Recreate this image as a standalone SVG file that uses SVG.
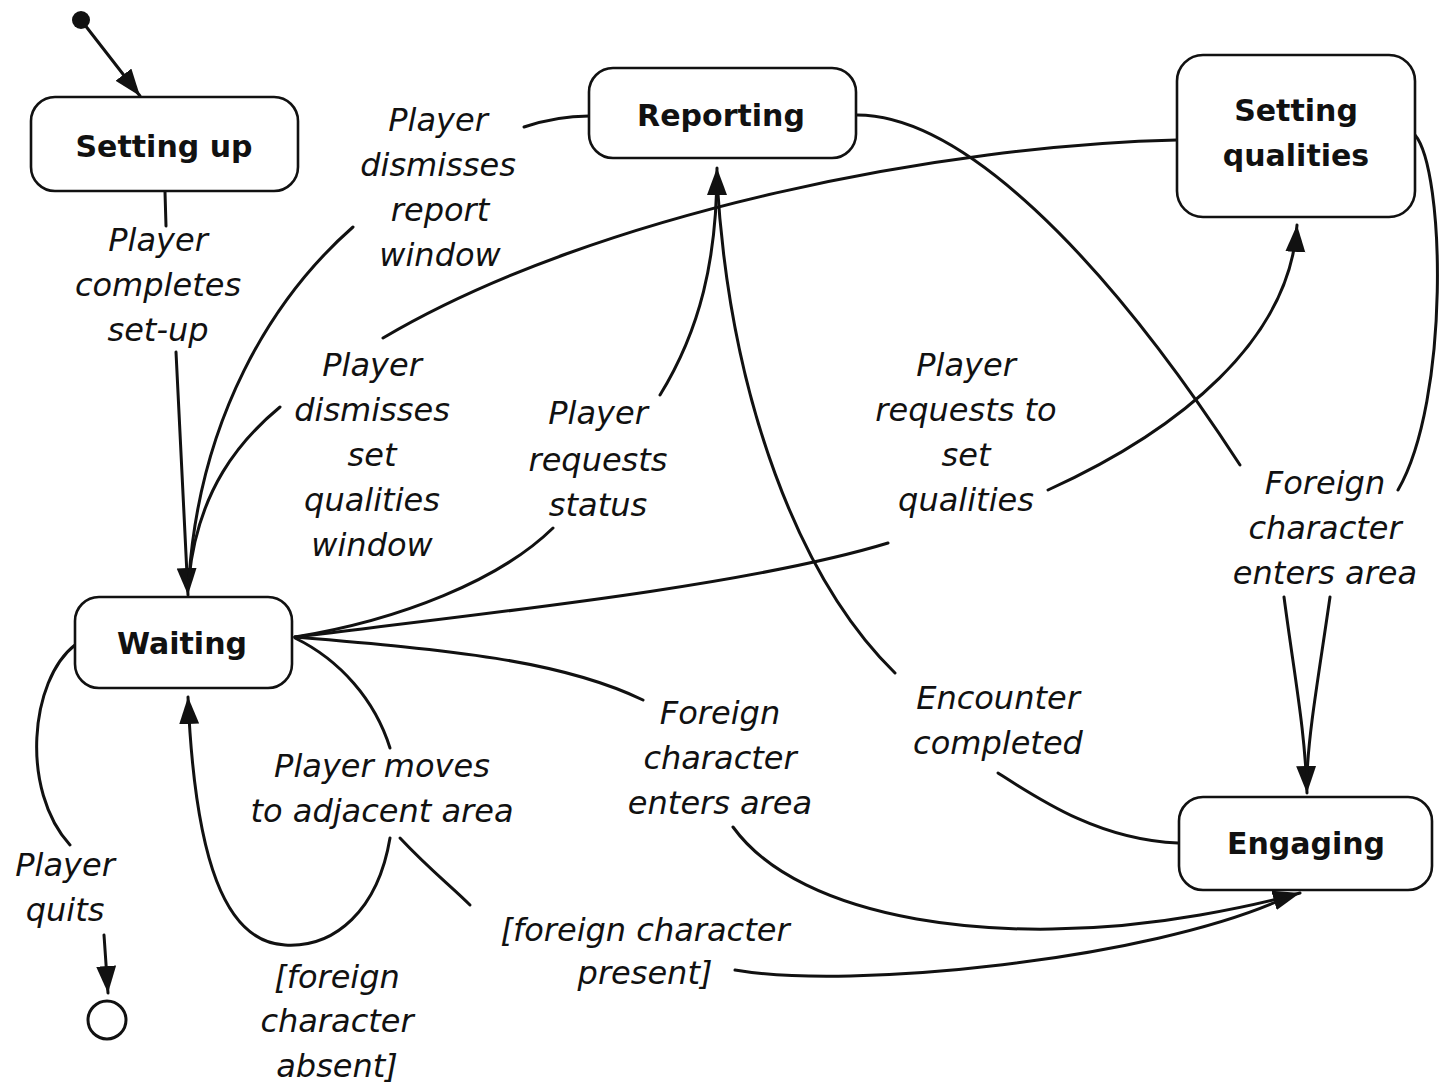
<svg xmlns="http://www.w3.org/2000/svg" width="1442" height="1085" viewBox="0 0 1442 1085">
<style>
.node rect{fill:#fff;stroke:#111;stroke-width:2.6}
.title{font-family:"DejaVu Sans","Liberation Sans",sans-serif;font-weight:bold;font-size:30px;fill:#111;text-anchor:middle}
.lbl{font-family:"DejaVu Sans","Liberation Sans",sans-serif;font-style:oblique;font-size:32px;fill:#111;text-anchor:middle}
.c{fill:none;stroke:#111;stroke-width:3;stroke-linecap:round}
</style>
<defs>
<marker id="ah" markerUnits="userSpaceOnUse" markerWidth="30" markerHeight="22" refX="27" refY="10" orient="auto">
<path d="M0,0 L27,10 L0,20 z" fill="#111"/>
</marker>
</defs>
<rect width="1442" height="1085" fill="#fff"/>

<g id="connectors">
<!-- initial -> Setting up -->
<path class="c" d="M81,20 L140,96" marker-end="url(#ah)"/>
<!-- Setting up -> Waiting -->
<path class="c" d="M165,192 L166,226"/>
<path class="c" d="M176,352 L188,595" marker-end="url(#ah)"/>
<!-- Reporting -> Waiting -->
<path class="c" d="M589,116 C570,116 545,120 524,127"/>
<path class="c" d="M353,227 C270,300 200,420 189,578"/>
<!-- Setting qualities -> Waiting -->
<path class="c" d="M1177,140 C950,145 600,210 383,338"/>
<path class="c" d="M280,407 C240,440 198,490 189,578"/>
<!-- Waiting -> Reporting -->
<path class="c" d="M295,637 C400,620 500,580 553,528"/>
<path class="c" d="M660,395 C700,330 717,260 717,168" marker-end="url(#ah)"/>
<!-- Engaging -> Reporting -->
<path class="c" d="M1178,843 C1100,840 1040,800 998,773"/>
<path class="c" d="M895,673 C800,580 730,400 717,180"/>
<!-- Waiting -> Setting qualities -->
<path class="c" d="M295,637 C500,612 750,585 888,543"/>
<path class="c" d="M1048,490 C1180,430 1290,340 1297,225" marker-end="url(#ah)"/>
<!-- Reporting -> Engaging -->
<path class="c" d="M857,115 C960,115 1100,250 1240,465"/>
<path class="c" d="M1284,597 C1295,680 1305,730 1307,793" marker-end="url(#ah)"/>
<!-- Setting qualities -> Engaging -->
<path class="c" d="M1415,135 C1445,170 1450,400 1398,490"/>
<path class="c" d="M1330,597 C1318,680 1309,730 1307,775"/>
<!-- Waiting -> Engaging (foreign character enters area) -->
<path class="c" d="M295,637 C450,650 560,660 643,700"/>
<path class="c" d="M733,827 C800,920 1000,950 1200,915 C1240,908 1275,900 1300,893" marker-end="url(#ah)"/>
<!-- Waiting self loop / present branch -->
<path class="c" d="M295,638 C340,660 375,700 390,748"/>
<path class="c" d="M390,838 C378,910 335,948 285,945 C225,942 195,860 188,697" marker-end="url(#ah)"/>
<path class="c" d="M400,838 C430,870 450,885 470,905"/>
<path class="c" d="M735,970 C850,990 1150,960 1285,898"/>
<!-- Waiting -> final -->
<path class="c" d="M75,645 C30,680 20,790 70,845"/>
<path class="c" d="M104,935 L108,993" marker-end="url(#ah)"/>
</g>

<g id="initial"><circle cx="81" cy="20" r="9" fill="#111"/></g>
<g id="final"><circle cx="107" cy="1020" r="19" fill="#fff" stroke="#111" stroke-width="3"/></g>

<g id="setting-up" class="node"><rect x="31" y="97" width="267" height="94" rx="24"/><text class="title" x="164" y="157">Setting up</text></g>
<g id="reporting" class="node"><rect x="589" y="68" width="267" height="90" rx="24"/><text class="title" x="721" y="126">Reporting</text></g>
<g id="setting-qualities" class="node"><rect x="1177" y="55" width="238" height="162" rx="26"/><text class="title" x="1296" y="121">Setting</text><text class="title" x="1296" y="166">qualities</text></g>
<g id="waiting" class="node"><rect x="75" y="597" width="217" height="91" rx="24"/><text class="title" x="182" y="654">Waiting</text></g>
<g id="engaging" class="node"><rect x="1179" y="797" width="253" height="93" rx="24"/><text class="title" x="1306" y="854">Engaging</text></g>

<g id="labels">
<text class="lbl" x="158"><tspan x="158" y="251">Player</tspan><tspan x="158" y="296">completes</tspan><tspan x="158" y="341">set-up</tspan></text>
<text class="lbl"><tspan x="438" y="131">Player</tspan><tspan x="438" y="176">dismisses</tspan><tspan x="440" y="221">report</tspan><tspan x="440" y="266">window</tspan></text>
<text class="lbl"><tspan x="372" y="376">Player</tspan><tspan x="372" y="421">dismisses</tspan><tspan x="372" y="466">set</tspan><tspan x="372" y="511">qualities</tspan><tspan x="372" y="556">window</tspan></text>
<text class="lbl"><tspan x="598" y="424">Player</tspan><tspan x="598" y="471">requests</tspan><tspan x="598" y="516">status</tspan></text>
<text class="lbl"><tspan x="966" y="376">Player</tspan><tspan x="966" y="421">requests to</tspan><tspan x="966" y="466">set</tspan><tspan x="966" y="511">qualities</tspan></text>
<text class="lbl"><tspan x="1325" y="494">Foreign</tspan><tspan x="1325" y="539">character</tspan><tspan x="1325" y="584">enters area</tspan></text>
<text class="lbl"><tspan x="382" y="777">Player moves</tspan><tspan x="382" y="822">to adjacent area</tspan></text>
<text class="lbl"><tspan x="720" y="724">Foreign</tspan><tspan x="720" y="769">character</tspan><tspan x="720" y="814">enters area</tspan></text>
<text class="lbl"><tspan x="998" y="709">Encounter</tspan><tspan x="998" y="754">completed</tspan></text>
<text class="lbl"><tspan x="65" y="876">Player</tspan><tspan x="65" y="921">quits</tspan></text>
<text class="lbl"><tspan x="645" y="941">[foreign character</tspan><tspan x="645" y="984">present]</tspan></text>
<text class="lbl"><tspan x="337" y="988">[foreign</tspan><tspan x="337" y="1032">character</tspan><tspan x="337" y="1077">absent]</tspan></text>
</g>
</svg>
